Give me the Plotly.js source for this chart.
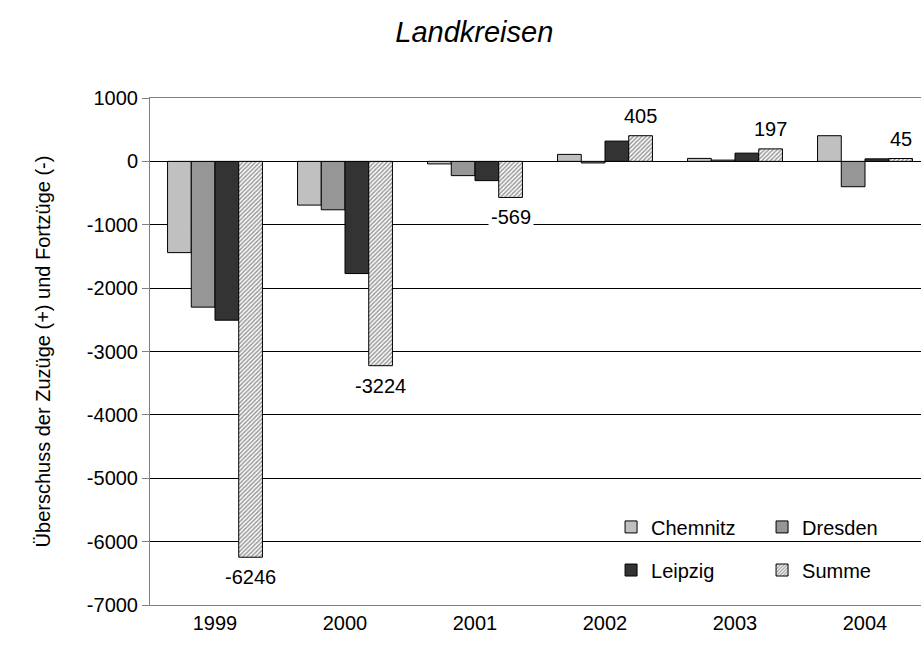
<!DOCTYPE html>
<html>
<head>
<meta charset="utf-8">
<script src="https://cdn.plot.ly/plotly-3.0.1.min.js"></script>
<style>
  body { margin: 0; background: #fff; }
  #chart { width: 921px; height: 645px; }
</style>
</head>
<body>
<div id="chart"></div>
<script>
// Wanderungssaldo der Landkreise nach Regierungsbezirk
const years = ['1999', '2000', '2001', '2002', '2003', '2004'];
const chemnitz = [-1440, -690, -40, 110, 47, 405];
const dresden = [-2300, -764, -225, -25, 20, -400];
const leipzig = [-2506, -1770, -304, 320, 130, 40];
const summe = [-6246, -3224, -569, 405, 197, 45];
const yTicks = [1000, 0, -1000, -2000, -3000, -4000, -5000, -6000, -7000];

const xs = years.map((_, i) => i);
const font = 'Liberation Sans, Arial, sans-serif';
const bargap = 0.27;
// centre of the 4th bar inside a group, in category units
const summeOffset = 1.5 * (1 - bargap) / 4;

function barTrace(name, values, color, legend) {
    return {
        type: 'bar',
        name: name,
        x: xs,
        y: values,
        legend: legend,
        marker: {
            color: color,
            line: { color: '#000000', width: 1 }
        },
        hoverinfo: 'y+name'
    };
}

const summeTrace = barTrace('Summe', summe, '#ffffff', 'legend2');
summeTrace.marker.pattern = {
    shape: '/',
    fgcolor: '#9a9a9a',
    bgcolor: '#ffffff',
    size: 3,
    solidity: 0.5
};

const data = [
    barTrace('Chemnitz', chemnitz, '#c0c0c0', 'legend'),
    barTrace('Dresden', dresden, '#969696', 'legend'),
    barTrace('Leipzig', leipzig, '#333333', 'legend2'),
    summeTrace
];

// value labels above/below the Summe bars
const annotations = summe.map((v, i) => ({
    x: i + summeOffset,
    y: v,
    xref: 'x',
    yref: 'y',
    text: String(v),
    showarrow: false,
    yanchor: v < 0 ? 'top' : 'bottom',
    yshift: v < 0 ? -6 : 6,
    bgcolor: '#ffffff',
    borderpad: 2,
    font: { family: font, size: 20, color: '#000000' }
}));

const legendCommon = {
    orientation: 'h',
    x: 0.598,
    xanchor: 'left',
    yanchor: 'middle',
    bgcolor: 'rgba(0,0,0,0)',
    borderwidth: 0,
    entrywidth: 106,
    entrywidthmode: 'pixels',
    font: { family: font, size: 20, color: '#000000' },
    traceorder: 'normal'
};

const layout = {
    width: 921,
    height: 645,
    paper_bgcolor: '#ffffff',
    plot_bgcolor: '#ffffff',
    margin: { l: 150, r: 0, t: 98, b: 40, autoexpand: false },
    font: { family: font, size: 20, color: '#000000' },
    title: {
        text: '<i>Landkreisen</i>',
        font: { family: font, size: 29, color: '#000000' },
        x: 0.515,
        xanchor: 'center',
        y: 0.95,
        yanchor: 'middle'
    },
    barmode: 'group',
    bargap: bargap,
    bargroupgap: 0,
    showlegend: true,
    legend: Object.assign({}, legendCommon, { y: 0.154 }),
    legend2: Object.assign({}, legendCommon, { y: 0.069 }),
    xaxis: {
        // the last category is cut off at the right edge, like the original
        range: [-0.5, -0.5 + 771 / 130],
        tickvals: xs,
        ticktext: years,
        ticks: '',
        showgrid: false,
        zeroline: false,
        showline: true,
        linecolor: '#808080',
        linewidth: 1,
        mirror: true,
        tickfont: { family: font, size: 20 },
        fixedrange: true
    },
    yaxis: {
        range: [-7000, 1000],
        tickvals: yTicks,
        ticktext: yTicks.map(String),
        ticks: 'outside',
        ticklen: 7,
        tickcolor: '#808080',
        showline: true,
        linecolor: '#808080',
        linewidth: 1,
        showgrid: true,
        gridcolor: '#000000',
        gridwidth: 1,
        zeroline: true,
        zerolinecolor: '#000000',
        zerolinewidth: 1,
        tickfont: { family: font, size: 20 },
        title: {
            text: 'Überschuss der Zuzüge (+) und Fortzüge (-)',
            font: { family: font, size: 20, color: '#000000' },
            standoff: 30
        },
        fixedrange: true
    },
    shapes: [{
        // white legend box hiding the gridline behind it
        type: 'rect',
        xref: 'paper',
        yref: 'paper',
        x0: 0.599,
        x1: 0.988,
        y0: 0.03,
        y1: 0.2,
        fillcolor: '#ffffff',
        line: { width: 0 },
        layer: 'between'
    }],
    annotations: annotations
};

Plotly.newPlot('chart', data, layout, { displayModeBar: false, staticPlot: true });
</script>
</body>
</html>
